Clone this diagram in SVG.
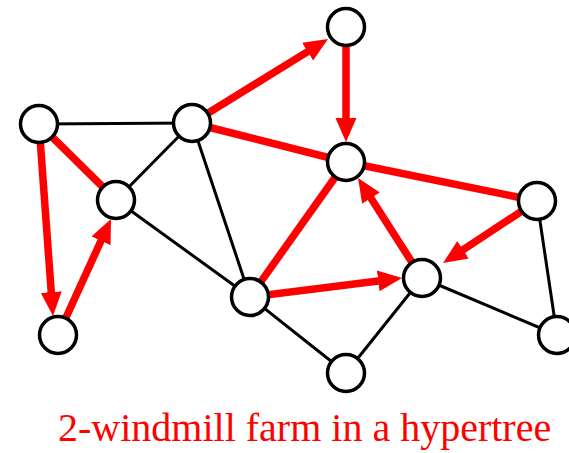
<svg xmlns="http://www.w3.org/2000/svg" width="569" height="453" viewBox="0 0 569 453">
  <style>
    .edge { stroke: #000; stroke-width: 3; fill: none; }
    .red { stroke: #ff0000; stroke-width: 7.5; fill: none; }
    .arrow { marker-end: url(#head); }
    .node circle { fill: #fff; stroke: #000; stroke-width: 3.5; }
    .caption { font-family: "Liberation Serif", "Times New Roman", serif; font-size: 40px; fill: #ff0000; }
  </style>
  <defs>
    <marker id="head" markerUnits="userSpaceOnUse" markerWidth="26" markerHeight="22" refX="2" refY="10.5" orient="auto">
      <path d="M0,0 L24,10.5 L0,21 z" fill="#ff0000"/>
    </marker>
  </defs>

  <g id="connectors">
    <!-- plain black edges -->
    <line class="edge" x1="39" y1="124" x2="192" y2="123"/>
    <line class="edge" x1="192" y1="123" x2="116" y2="200"/>
    <line class="edge" x1="192" y1="123" x2="250" y2="297"/>
    <line class="edge" x1="116" y1="200" x2="250" y2="297"/>
    <line class="edge" x1="250" y1="297" x2="346" y2="373"/>
    <line class="edge" x1="346" y1="373" x2="422" y2="278"/>
    <line class="edge" x1="422" y1="278" x2="557" y2="335"/>
    <line class="edge" x1="537" y1="201" x2="557" y2="335"/>
    <!-- red edges without heads -->
    <line class="red" x1="39" y1="124" x2="116" y2="200"/>
    <line class="red" x1="192" y1="123" x2="346" y2="162"/>
    <line class="red" x1="346" y1="162" x2="537" y2="201"/>
    <line class="red" x1="250" y1="297" x2="346" y2="162"/>
    <!-- red directed edges -->
    <line class="red arrow" x1="39" y1="124" x2="51.4" y2="294.1"/>
    <line class="red arrow" x1="58" y1="335" x2="101.85" y2="239"/>
    <line class="red arrow" x1="192" y1="123" x2="309.3" y2="50.6"/>
    <line class="red arrow" x1="346" y1="27" x2="346" y2="120"/>
    <line class="red arrow" x1="537" y1="201" x2="461.4" y2="250.9"/>
    <line class="red arrow" x1="422" y1="278" x2="369.9" y2="196.5"/>
    <line class="red arrow" x1="250" y1="297" x2="380.2" y2="280.7"/>
  </g>

  <g id="n1" class="node"><circle cx="39" cy="124" r="18.5"/></g>
  <g id="n2" class="node"><circle cx="192" cy="123" r="18.5"/></g>
  <g id="n3" class="node"><circle cx="346" cy="27" r="18.5"/></g>
  <g id="n4" class="node"><circle cx="346" cy="162" r="18.5"/></g>
  <g id="n5" class="node"><circle cx="116" cy="200" r="18.5"/></g>
  <g id="n6" class="node"><circle cx="537" cy="201" r="18.5"/></g>
  <g id="n7" class="node"><circle cx="58" cy="335" r="18.5"/></g>
  <g id="n8" class="node"><circle cx="250" cy="297" r="18.5"/></g>
  <g id="n9" class="node"><circle cx="422" cy="278" r="18.5"/></g>
  <g id="n10" class="node"><circle cx="557" cy="335" r="18.5"/></g>
  <g id="n11" class="node"><circle cx="346" cy="373" r="18.5"/></g>

  <text class="caption" x="58" y="441">2-windmill farm in a hypertree</text>
</svg>
